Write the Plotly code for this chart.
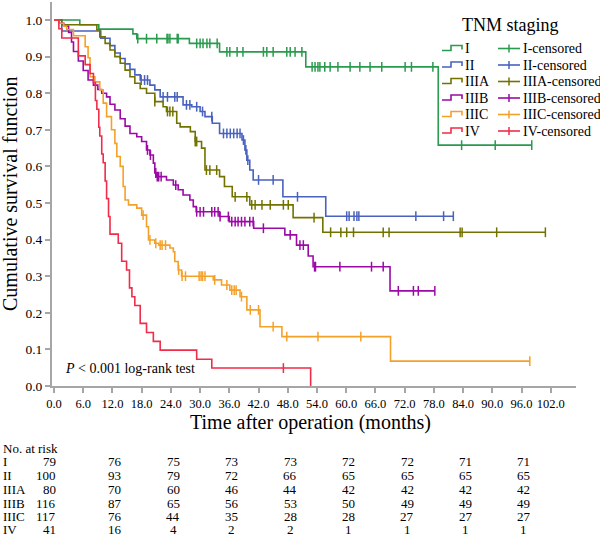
import numpy as np
import plotly.graph_objects as go

# ===============================
# DATA
# ===============================
groups = ["I", "II", "IIIA", "IIIB", "IIIC", "IV"]
colors = ["#2a9a4e", "#4862bd", "#727200", "#9c0aa6", "#f4a12a", "#ef2d4a"]

# stage I
i_time = [5.3, 9.2, 16.2, 17.0, 27.8, 34.0, 51.7, 78.9]
i_surv = [0.987, 0.975, 0.962, 0.949, 0.936, 0.913, 0.872, 0.658]
i_cens = [17.2, 19.0, 21.1, 23.2, 23.4, 23.8, 25.3, 25.5, 29.3, 30.0, 30.6, 31.4, 32.0, 33.5,
          35.5, 36.1, 37.6, 38.8, 43.0, 43.7, 45.0, 47.8, 48.5, 49.5, 50.9, 53.0, 53.6, 54.2,
          54.6, 55.6, 56.7, 58.3, 60.8, 62.8, 64.9, 67.3, 72.1, 73.4, 77.8, 83.7, 90.6, 98.1]

# stage II
ii_time = [1.6, 9.6, 11.5, 12.5, 13.6, 14.6, 15.6, 16.6, 17.7, 19.7, 20.7, 21.8, 26.5, 28.3,
           30.0, 31.0, 32.5, 34.0, 38.6, 39.2, 39.6, 40.2, 40.9, 47.0, 55.8]
ii_surv = [0.97, 0.95, 0.93, 0.91, 0.895, 0.88, 0.865, 0.85, 0.836, 0.822, 0.809, 0.79, 0.768,
           0.763, 0.75, 0.736, 0.718, 0.69, 0.672, 0.645, 0.617, 0.59, 0.563, 0.517, 0.464]
ii_cens = [17.9, 18.6, 19.2, 22.4, 23.3, 24.8, 25.3, 27.2, 27.9, 29.3, 30.5, 32.4, 34.8, 35.5,
           36.2, 36.9, 37.6, 38.2, 38.9, 39.4, 39.8, 42.0, 45.0, 50.0, 60.1, 60.6, 61.6, 62.2,
           62.6, 74.3, 80.0, 82.0]

# stage IIIA
iiia_time = [1.6, 8.8, 9.4, 10.5, 11.5, 12.5, 13.6, 14.6, 15.6, 16.6, 17.7, 19.0, 20.7, 22.4,
             23.1, 25.2, 25.9, 28.0, 29.0, 30.3, 31.0, 34.0, 35.0, 36.6, 40.2, 49.1, 55.2]
iiia_surv = [0.987, 0.973, 0.954, 0.936, 0.918, 0.9, 0.882, 0.863, 0.845, 0.827, 0.813, 0.8,
             0.777, 0.763, 0.75, 0.718, 0.708, 0.695, 0.668, 0.65, 0.59, 0.572, 0.545, 0.517,
             0.495, 0.46, 0.42]
iiia_cens = [20.7, 23.3, 23.8, 24.4, 29.0, 29.3, 31.3, 32.0, 33.4, 37.2, 39.6, 40.6, 41.3, 42.7,
             44.4, 47.1, 48.1, 53.4, 56.8, 58.9, 60.1, 61.5, 67.6, 68.8, 83.4, 83.8, 90.9, 100.9]

# stage IIIB
iiib_time = [1.0, 2.0, 3.0, 3.6, 4.0, 5.0, 6.0, 7.0, 8.1, 9.0, 9.8, 10.8, 11.5, 12.5, 13.6,
             14.6, 15.6, 17.0, 18.0, 19.0, 19.7, 20.4, 20.7, 21.1, 23.1, 24.5, 25.5, 26.5, 27.9,
             28.6, 29.2, 34.0, 36.0, 41.0, 47.4, 49.8, 52.2, 53.2, 69.0]
iiib_surv = [0.991, 0.983, 0.966, 0.94, 0.914, 0.888, 0.862, 0.836, 0.822, 0.81, 0.8, 0.79,
             0.77, 0.754, 0.73, 0.71, 0.69, 0.681, 0.668, 0.645, 0.631, 0.609, 0.582, 0.572,
             0.563, 0.549, 0.536, 0.522, 0.508, 0.49, 0.476, 0.463, 0.449, 0.431, 0.413, 0.385,
             0.355, 0.326, 0.26]
iiib_cens = [19.2, 19.8, 20.9, 21.2, 21.5, 22.0, 25.0, 29.3, 30.0, 30.7, 32.4, 33.0, 33.7, 34.1,
             35.8, 36.5, 37.2, 37.8, 38.5, 39.2, 40.2, 40.9, 43.0, 48.5, 50.5, 51.2, 53.5, 53.7,
             58.7, 65.2, 67.6, 70.7, 73.8, 74.8, 78.2]

# stage IIIC
iiic_time = [1.0, 2.0, 2.6, 4.0, 6.4, 7.0, 7.4, 8.4, 9.4, 10.1, 10.8, 11.8, 12.5, 12.9, 13.6,
             14.2, 14.6, 15.3, 17.0, 18.0, 19.0, 19.4, 20.7, 21.5, 23.8, 24.5, 24.8, 25.5, 26.2,
             32.7, 34.4, 36.1, 38.2, 39.6, 42.3, 46.8, 69.1]
iiic_surv = [0.991, 0.983, 0.974, 0.957, 0.927, 0.897, 0.845, 0.831, 0.809, 0.773, 0.736, 0.7,
             0.663, 0.627, 0.6, 0.545, 0.508, 0.495, 0.486, 0.467, 0.435, 0.399, 0.39, 0.385,
             0.377, 0.367, 0.34, 0.317, 0.3, 0.29, 0.276, 0.262, 0.244, 0.208, 0.162, 0.135,
             0.068]
iiic_cens = [18.3, 19.7, 20.9, 21.8, 22.2, 22.9, 25.6, 26.3, 27.0, 29.8, 30.2, 30.5, 31.0, 33.0,
             35.5, 36.5, 37.0, 37.4, 38.5, 40.3, 42.0, 45.0, 47.8, 54.2, 63.0, 97.7]

# stage IV
iv_time = [1.0, 1.6, 5.0, 6.4, 7.4, 8.1, 8.5, 8.8, 9.2, 9.4, 9.8, 10.1, 10.5, 10.8, 11.2, 11.5,
           13.2, 13.9, 14.9, 15.5, 16.0, 16.6, 17.7, 19.0, 20.4, 21.8, 29.3, 32.4, 52.7]
iv_surv = [0.976, 0.951, 0.902, 0.878, 0.854, 0.829, 0.78, 0.756, 0.707, 0.683, 0.634, 0.61,
           0.56, 0.512, 0.463, 0.415, 0.39, 0.341, 0.317, 0.268, 0.244, 0.22, 0.171, 0.146,
           0.122, 0.098, 0.073, 0.049, 0.0]
iv_cens = [47.1]

times = [i_time, ii_time, iiia_time, iiib_time, iiic_time, iv_time]
survs = [i_surv, ii_surv, iiia_surv, iiib_surv, iiic_surv, iv_surv]
censs = [i_cens, ii_cens, iiia_cens, iiib_cens, iiic_cens, iv_cens]

# number at risk table
risk_times = [0, 12, 24, 36, 48, 60, 72, 84, 96]
risk_I = [79, 76, 75, 73, 73, 72, 72, 71, 71]
risk_II = [100, 93, 79, 72, 66, 65, 65, 65, 65]
risk_IIIA = [80, 70, 60, 46, 44, 42, 42, 42, 42]
risk_IIIB = [116, 87, 65, 56, 53, 50, 49, 49, 49]
risk_IIIC = [117, 76, 44, 35, 28, 28, 27, 27, 27]
risk_IV = [41, 16, 4, 2, 2, 1, 1, 1, 1]
risks = [risk_I, risk_II, risk_IIIA, risk_IIIB, risk_IIIC, risk_IV]

x_ticks = list(range(0, 103, 6))
y_ticks = [i / 10 for i in range(11)]

# ===============================
# LAYOUT HELPERS (screen pixels -> paper coords)
# ===============================
W, H = 600, 537
L, R, T, B = 52, 24, 2, 151
FONT = "Liberation Serif"


def px_x(px):
    return (px - L) / (W - L - R)


def px_y(py):
    return (H - B - py) / (H - T - B)


def label(text, x, y, size, xanchor="left", xref="paper", **kw):
    return dict(text=text, x=x, y=y, xref=xref, yref="paper", xanchor=xanchor, yanchor="middle",
                showarrow=False, font=dict(family=FONT, size=size, color="black"), **kw)


fig = go.Figure()

for g, c, t, s, cens in zip(groups, colors, times, survs, censs):
    end = max(t[-1], cens[-1])
    fig.add_trace(go.Scatter(
        x=[0] + t + [end], y=[1.0] + s + [s[-1]],
        mode="lines", line=dict(color=c, width=1.6, shape="hv"),
        name=g, showlegend=False, hoverinfo="skip"))
    levels = np.array([1.0] + s)
    cy = levels[np.searchsorted(np.array(t), np.array(cens), side="right")]
    fig.add_trace(go.Scatter(
        x=cens, y=cy, mode="markers",
        marker=dict(symbol="line-ns", size=7, line=dict(color=c, width=1.5)),
        name=g + "-censored", showlegend=False, hoverinfo="skip"))

annotations = []
shapes = []

# legend (drawn by hand: title + two columns)
annotations.append(label("TNM staging", px_x(510), px_y(25), 18, xanchor="center"))
row_y = [48.5, 65, 81.5, 98, 114.5, 131]
for g, c, ry in zip(groups, colors, row_y):
    shapes.append(dict(type="path", xref="paper", yref="paper",
                       path="M %f,%f L %f,%f L %f,%f L %f,%f L %f,%f" % (
                           px_x(442), px_y(ry + 2), px_x(451), px_y(ry + 2), px_x(451), px_y(ry - 3),
                           px_x(462), px_y(ry - 3), px_x(462), px_y(ry + 1)),
                       line=dict(color=c, width=1.6)))
    annotations.append(label(g, px_x(463), px_y(ry), 14))
    shapes.append(dict(type="line", xref="paper", yref="paper",
                       x0=px_x(498), x1=px_x(520), y0=px_y(ry), y1=px_y(ry),
                       line=dict(color=c, width=1.6)))
    shapes.append(dict(type="line", xref="paper", yref="paper",
                       x0=px_x(509), x1=px_x(509), y0=px_y(ry - 4), y1=px_y(ry + 4),
                       line=dict(color=c, width=1.5)))
    annotations.append(label(g + "-censored", px_x(521), px_y(ry), 14))

# log-rank note
annotations.append(label("<i>P</i> < 0.001 log-rank test", px_x(63), px_y(368), 14))

# axis titles
annotations.append(label("Time after operation (months)", px_x(310), px_y(422), 20, xanchor="center"))
annotations.append(label("Cumulative survival function", px_x(10), px_y(194), 20,
                         xanchor="center", textangle=-90))

# number at risk table
annotations.append(label("No. at risk", px_x(1), px_y(448), 13))
table_y = [461.5, 475.5, 489.5, 503, 516.5, 529.5]
for g, r, ry in zip(groups, risks, table_y):
    annotations.append(label(g, px_x(1), px_y(ry), 13))
    for k, (tt, n) in enumerate(zip(risk_times, r)):
        if k == 0:
            annotations.append(label(str(n), tt + 0.9, px_y(ry), 13, xanchor="right", xref="x"))
        else:
            annotations.append(label(str(n), tt + 0.5, px_y(ry), 13, xanchor="center", xref="x"))

# x range: 0 at screen px 54, 4.87 px per month; y: 1.0 at screen px 20, 0 at 386
x_lo = (L - 54) / 4.87
x_hi = (W - R - 54) / 4.87
y_hi = (H - T - B) / 366

axis_col = "#a6a6a6"
fig.update_layout(
    width=W, height=H,
    margin=dict(l=L, r=R, t=T, b=B),
    plot_bgcolor="white", paper_bgcolor="white",
    showlegend=False,
    font=dict(family=FONT, color="black"),
    annotations=annotations,
    shapes=shapes,
    xaxis=dict(range=[x_lo, x_hi], tickvals=x_ticks, tickformat=".1f",
               showgrid=False, zeroline=False, showline=True, linecolor=axis_col, linewidth=2,
               ticks="outside", ticklen=5, tickwidth=1.5, tickcolor=axis_col,
               tickfont=dict(family=FONT, size=12.5, color="black")),
    yaxis=dict(range=[0, y_hi], tickvals=y_ticks, tickformat=".1f",
               showgrid=False, zeroline=False, showline=True, linecolor=axis_col, linewidth=2,
               ticks="outside", ticklen=5, tickwidth=1.5, tickcolor=axis_col,
               tickfont=dict(family=FONT, size=13.5, color="black")),
)

# drop the page's default 8px body margin so the figure sits at the window's corner
fig.write_html("out.html", config={"displayModeBar": False},
               post_script="document.body.style.margin='0';")
